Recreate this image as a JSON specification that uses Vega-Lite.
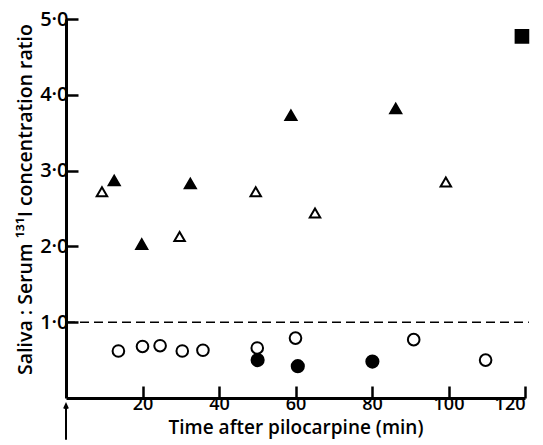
{
  "$schema": "https://vega.github.io/schema/vega-lite/v6.json",
  "width": 459,
  "height": 379,
  "autosize": "none",
  "padding": {"left": 66, "top": 19, "right": 18, "bottom": 47},
  "background": "white",
  "config": {"view": {"stroke": null}, "font": "Open Sans"},
  "datasets": {
    "points": [
      {"series": "open triangle", "time": 9.4, "ratio": 2.72},
      {"series": "open triangle", "time": 29.7, "ratio": 2.13},
      {"series": "open triangle", "time": 49.6, "ratio": 2.72},
      {"series": "open triangle", "time": 65.1, "ratio": 2.44},
      {"series": "open triangle", "time": 99.3, "ratio": 2.85},
      {"series": "filled triangle", "time": 12.6, "ratio": 2.87},
      {"series": "filled triangle", "time": 19.8, "ratio": 2.03},
      {"series": "filled triangle", "time": 32.5, "ratio": 2.83},
      {"series": "filled triangle", "time": 58.8, "ratio": 3.73},
      {"series": "filled triangle", "time": 86.2, "ratio": 3.82},
      {"series": "filled square", "time": 119.2, "ratio": 4.77},
      {"series": "open circle", "time": 13.7, "ratio": 0.62},
      {"series": "open circle", "time": 20.0, "ratio": 0.68},
      {"series": "open circle", "time": 24.6, "ratio": 0.69},
      {"series": "open circle", "time": 30.4, "ratio": 0.62},
      {"series": "open circle", "time": 35.8, "ratio": 0.63},
      {"series": "open circle", "time": 50.0, "ratio": 0.66},
      {"series": "open circle", "time": 60.0, "ratio": 0.79},
      {"series": "open circle", "time": 90.9, "ratio": 0.77},
      {"series": "open circle", "time": 109.7, "ratio": 0.5},
      {"series": "filled circle", "time": 50.1, "ratio": 0.5},
      {"series": "filled circle", "time": 60.6, "ratio": 0.42},
      {"series": "filled circle", "time": 80.1, "ratio": 0.48}
    ],
    "reference": [{"ratio": 1.0, "start": 0, "end": 121}],
    "arrow": [{"time": 0, "top": -0.11, "bottom": -0.55}]
  },
  "layer": [
    {
      "data": {"name": "reference"},
      "mark": {"type": "rule", "strokeDash": [9, 5], "strokeWidth": 1.6, "color": "black"},
      "encoding": {
        "y": {"field": "ratio", "type": "quantitative"},
        "x": {"field": "start", "type": "quantitative"},
        "x2": {"field": "end"}
      }
    },
    {
      "data": {"name": "points"},
      "mark": {"type": "point", "stroke": "black", "strokeWidth": 2, "opacity": 1, "filled": false},
      "encoding": {
        "x": {
          "field": "time",
          "type": "quantitative",
          "scale": {"domain": [0, 120], "nice": false, "zero": true},
          "axis": {
            "title": "Time after pilocarpine (min)",
            "values": [20, 40, 60, 80, 100, 120],
            "grid": false,
            "domainColor": "black",
            "domainWidth": 3,
            "tickColor": "black",
            "tickWidth": 2.5,
            "tickSize": -12,
            "labelPadding": 9,
            "labelFontSize": 18,
            "labelFontWeight": 600,
            "labelColor": "black",
            "titleFontSize": 19,
            "titleFontWeight": 600,
            "titleColor": "black",
            "titlePadding": 5
          }
        },
        "y": {
          "field": "ratio",
          "type": "quantitative",
          "scale": {"domain": [0, 5], "nice": false},
          "axis": {
            "title": "Saliva : Serum ¹³¹I concentration ratio",
            "values": [1, 2, 3, 4, 5],
            "labelExpr": "replace(format(datum.value, '.1f'), '.', '·')",
            "grid": false,
            "domainColor": "black",
            "domainWidth": 3,
            "tickColor": "black",
            "tickWidth": 2.5,
            "tickSize": -12,
            "labelPadding": 10,
            "labelFontSize": 20,
            "labelFontWeight": 600,
            "labelColor": "black",
            "titleFontSize": 19.5,
            "titleFontWeight": 600,
            "titleColor": "black",
            "titlePadding": 4,
            "titleY": 180
          }
        },
        "shape": {
          "field": "series",
          "type": "nominal",
          "scale": {
            "domain": ["open triangle", "filled triangle", "open circle", "filled circle", "filled square"],
            "range": ["triangle-up", "triangle-up", "circle", "circle", "square"]
          },
          "legend": null
        },
        "fill": {
          "field": "series",
          "type": "nominal",
          "scale": {
            "domain": ["open triangle", "filled triangle", "open circle", "filled circle", "filled square"],
            "range": ["white", "black", "white", "black", "black"]
          },
          "legend": null
        },
        "size": {
          "field": "series",
          "type": "nominal",
          "scale": {
            "domain": ["open triangle", "filled triangle", "open circle", "filled circle", "filled square"],
            "range": [110, 160, 95, 100, 150]
          },
          "legend": null
        }
      }
    },
    {
      "data": {"name": "arrow"},
      "mark": {"type": "rule", "color": "black", "strokeWidth": 2, "clip": false},
      "encoding": {
        "x": {"field": "time", "type": "quantitative"},
        "y": {"field": "top", "type": "quantitative"},
        "y2": {"field": "bottom"}
      }
    },
    {
      "data": {"name": "arrow"},
      "mark": {"type": "point", "shape": "M -0.5 0.6 L 0 -0.5 L 0.5 0.6", "filled": false, "stroke": "black", "strokeWidth": 2, "size": 60, "clip": false, "opacity": 1},
      "encoding": {
        "x": {"field": "time", "type": "quantitative"},
        "y": {"field": "top", "type": "quantitative"}
      }
    }
  ]
}
